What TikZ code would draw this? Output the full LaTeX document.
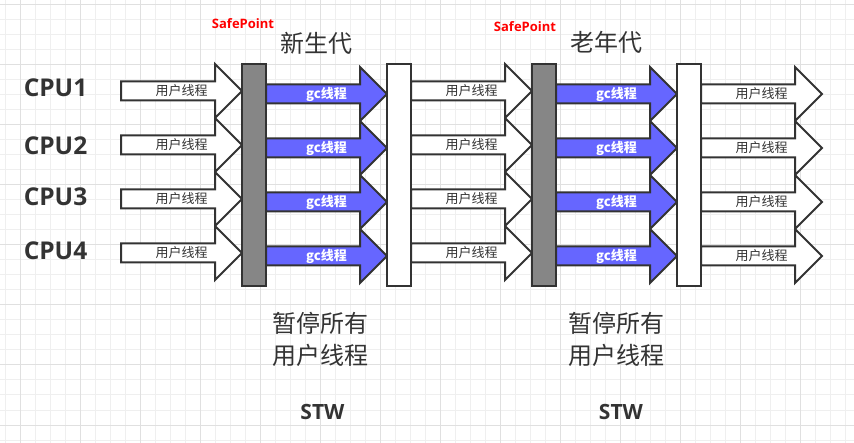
\documentclass[tikz,border=0pt]{standalone}
\usepackage{fontspec}
\newfontfamily\cjk{Noto Sans CJK SC}
\newfontfamily\lat{Open Sans}
\definecolor{ink}{HTML}{333333}
\definecolor{gcblue}{HTML}{6666FF}
\definecolor{bargray}{HTML}{868686}
\definecolor{gridminor}{HTML}{EFEFEF}
\definecolor{gridmajor}{HTML}{E0E0E0}
\newcommand\fatarrow[5]{% style, L, Hb, T, c
  \draw[#1] (#2,#5-9.5) -- (#3,#5-9.5) -- (#3,#5-27) -- (#4,#5) -- (#3,#5+27) -- (#3,#5+9.5) -- (#2,#5+9.5) -- cycle;}
\begin{document}
\begin{tikzpicture}[x=1pt,y=-1pt,
  outline/.style={draw=ink,line width=2pt,line join=miter},
  userarrow/.style={outline,fill=white},
  gcarrow/.style={outline,fill=gcblue},
  bar/.style={outline,inner sep=0pt,outer sep=0pt,minimum width=24pt,minimum height=222pt},
  ulabel/.style={font=\cjk\fontsize{13}{13}\selectfont,text=ink,inner sep=0pt},
  glabel/.style={font=\cjk\bfseries\fontsize{13}{13}\selectfont,text=white,inner sep=0pt},
  cpulabel/.style={font=\lat\bfseries\fontsize{24.5}{25}\selectfont,text=ink,inner sep=0pt},
  safelabel/.style={font=\lat\bfseries\fontsize{13}{13}\selectfont,text=red,inner sep=0pt},
  titlelabel/.style={font=\cjk\fontsize{24}{24}\selectfont,text=ink,inner sep=0pt},
  notelabel/.style={font=\cjk\fontsize{24}{31.5}\selectfont,text=ink,inner sep=0pt,align=center},
  stwlabel/.style={font=\lat\bfseries\fontsize{21}{21}\selectfont,text=ink,inner sep=0pt}
]
\fill[white] (0,0) rectangle (854,443);
\useasboundingbox (0,0) rectangle (854,443);
% grid
\foreach \x in {5,20,...,850} \draw[gridminor,line width=1pt] (\x,0) -- (\x,443);
\foreach \y in {5,20,...,440} \draw[gridminor,line width=1pt] (0,\y) -- (854,\y);
\foreach \x in {20,80,...,800} \draw[gridmajor,line width=1pt] (\x,0) -- (\x,443);
\foreach \y in {5,65,...,425} \draw[gridmajor,line width=1pt] (0,\y) -- (854,\y);
% arrows
\foreach \c [count=\i] in {91,145,199,253}{
  \fatarrow{userarrow}{121}{215}{242}{\c}
  \node[ulabel] (ua\i) at (181.5,\c) {用户线程};
  \fatarrow{userarrow}{411}{505}{532}{\c}
  \node[ulabel] (ub\i) at (471.5,\c) {用户线程};
}
\foreach \c [count=\i] in {94,148,202,256}{
  \fatarrow{gcarrow}{266}{360}{387}{\c}
  \node[glabel] (ga\i) at (326.5,\c) {gc线程};
  \fatarrow{gcarrow}{556}{650}{677}{\c}
  \node[glabel] (gb\i) at (616.5,\c) {gc线程};
  \fatarrow{userarrow}{701}{795}{822}{\c}
  \node[ulabel] (uc\i) at (761.5,\c) {用户线程};
}
% bars
\node[bar,fill=bargray] (gray1) at (254,175) {};
\node[bar,fill=white] (white1) at (399,175) {};
\node[bar,fill=bargray] (gray2) at (544,175) {};
\node[bar,fill=white] (white2) at (689,175) {};
% CPU labels
\node[cpulabel] (cpu1) at (55.5,88) {CPU1};
\node[cpulabel] (cpu2) at (55.5,145.3) {CPU2};
\node[cpulabel] (cpu3) at (55.5,197) {CPU3};
\node[cpulabel] (cpu4) at (55.5,250.5) {CPU4};
% titles
\node[safelabel] (sp1) at (243,24) {SafePoint};
\node[safelabel] (sp2) at (525,26.5) {SafePoint};
\node[titlelabel] (young) at (316,43) {新生代};
\node[titlelabel] (old) at (606,42.5) {老年代};
% notes
\node[notelabel] (note1) at (320,339.5) {暂停所有\\用户线程};
\node[notelabel] (note2) at (616,339.5) {暂停所有\\用户线程};
\node[stwlabel] (stw1) at (322.5,412) {STW};
\node[stwlabel] (stw2) at (621,412) {STW};
\end{tikzpicture}
\end{document}
